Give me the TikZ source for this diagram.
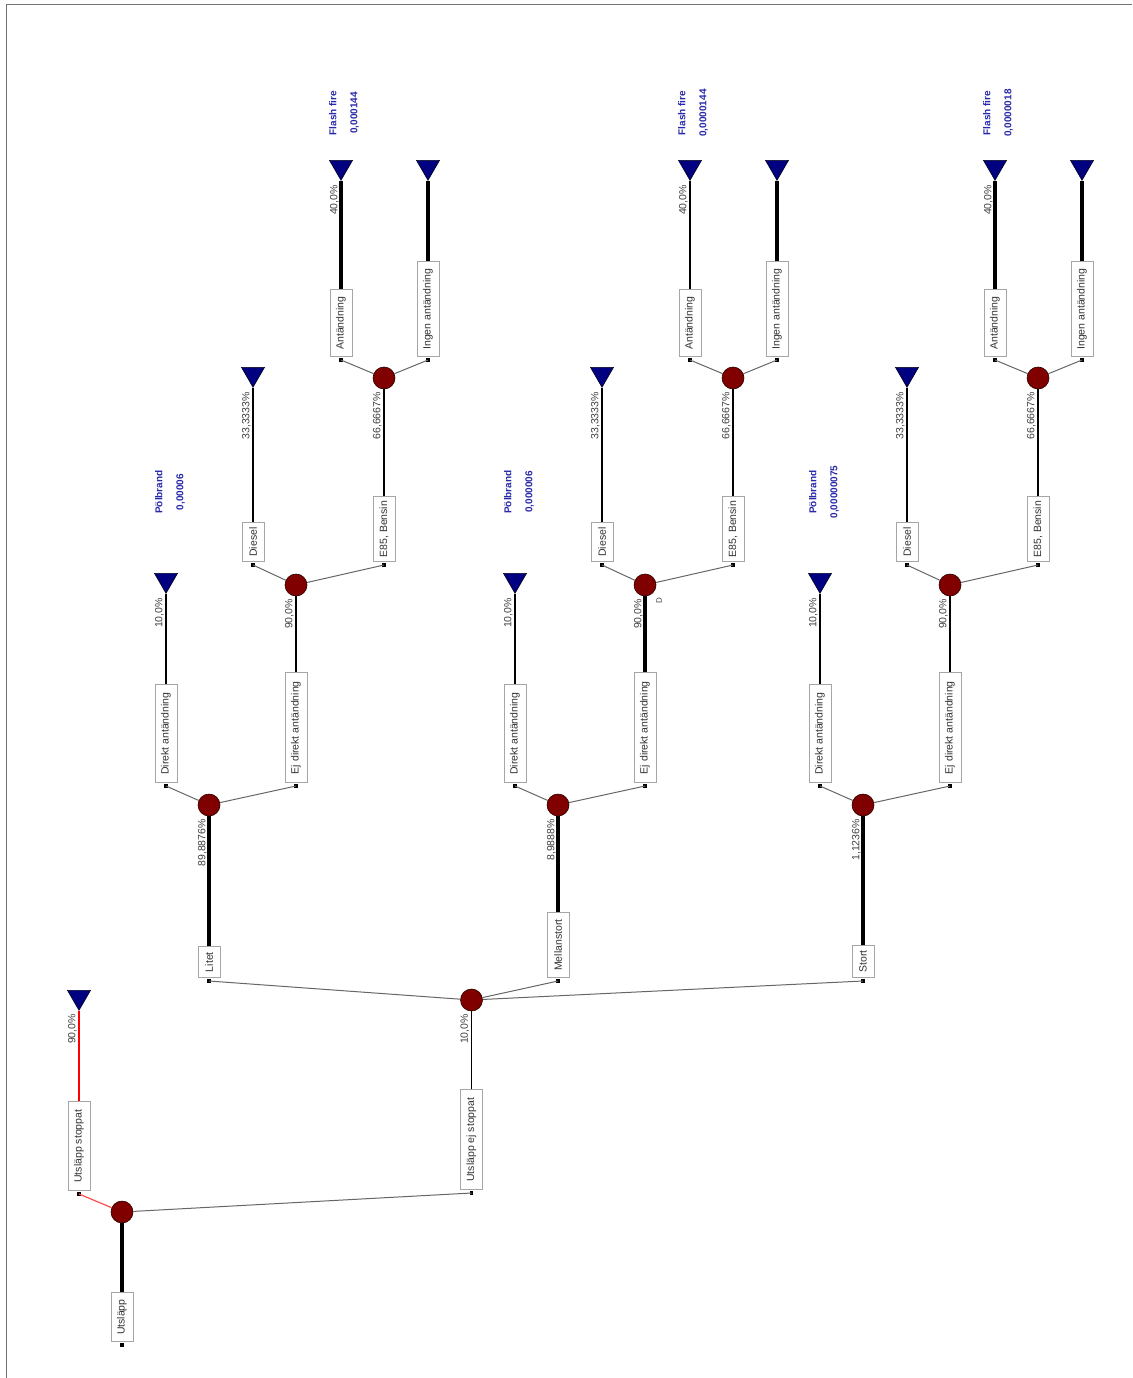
\documentclass[tikz,border=0pt]{standalone}
\usepackage{fontspec}
\setmainfont{Liberation Sans}
\usetikzlibrary{shapes.geometric}
\definecolor{navyt}{RGB}{0,0,128}
\definecolor{chancered}{RGB}{128,0,0}
\definecolor{lblue}{RGB}{40,40,170}

\newcommand\mkbox[5]{%
  \node[lbox, minimum width=#4pt] (#1) at (#2,#3) {#5};
  \coordinate (#1-d) at ([yshift=-3pt]#1.west);
  \fill (#1-d) ++(-1.6pt,-1.6pt) rectangle ++(3.2pt,3.2pt);}

% #1 offset, #2 suffix, #3 style Ej->L4, #4 style Antandning->term, #5 Polbrand value, #6 Flash fire value, #7 parent box
\newcommand\grp[7]{%
  \node[chance] (cc#2) at (209+#1,805) {};
  \mkbox{dk#2}{166+#1}{783}{98}{Direkt antändning}
  \node[term] (tdk#2) at (166+#1,580) {};
  \mkbox{ej#2}{296+#1}{783}{110}{Ej direkt antändning}
  \node[chance] (cd#2) at (296+#1,585) {};
  \mkbox{di#2}{253+#1}{562}{39}{Diesel}
  \node[term] (tdi#2) at (253+#1,374) {};
  \mkbox{eb#2}{384+#1}{562}{65}{E85, Bensin}
  \node[chance] (ce#2) at (384+#1,378) {};
  \mkbox{an#2}{341+#1}{357}{67}{Antändning}
  \node[term] (tan#2) at (341+#1,167) {};
  \mkbox{in#2}{428+#1}{357}{95}{Ingen antändning}
  \node[term] (tin#2) at (428+#1,167) {};
  \draw[wthick] (#7.east) -- (cc#2);
  \draw[wthin] (cc#2) -- (dk#2-d);
  \draw[wthin] (cc#2) -- (ej#2-d);
  \draw[wmed] (dk#2.east) -- (tdk#2.corner 1);
  \draw[#3] (ej#2.east) -- (cd#2);
  \draw[wthin] (cd#2) -- (di#2-d);
  \draw[wthin] (cd#2) -- (eb#2-d);
  \draw[wmed] (di#2.east) -- (tdi#2.corner 1);
  \draw[wmed] (eb#2.east) -- (ce#2);
  \draw[wthin] (ce#2) -- (an#2-d);
  \draw[wthin] (ce#2) -- (in#2-d);
  \draw[#4] (an#2.east) -- (tan#2.corner 1);
  \draw[wthick] (in#2.east) -- (tin#2.corner 1);
  \node[pct] at (165+#1,597) {10,0\%};
  \node[pct] at (295+#1,598) {90,0\%};
  \node[pct] at (252+#1,391) {33,3333\%};
  \node[pct] at (383+#1,391) {66,6667\%};
  \node[pct] at (340+#1,184) {40,0\%};
  \node[res] at (170+#1,492) {Pölbrand\\#5};
  \node[res] at (344+#1,113) {Flash fire\\#6};
}

\begin{document}
\begin{tikzpicture}[x=1pt,y=-1pt,
  lbox/.style={draw=black!35, fill=white, rotate=90, font=\fontsize{10.5}{12}\selectfont,
    text=black!80, inner sep=0pt, minimum height=22pt, line width=0.7pt, anchor=west},
  chance/.style={circle, fill=chancered, draw=black!70!chancered, line width=0.6pt,
    minimum size=22pt, inner sep=0pt},
  term/.style={regular polygon, regular polygon sides=3, shape border rotate=180,
    fill=navyt, draw=black!80!navyt, line width=0.6pt, minimum size=26.6pt, inner sep=0pt},
  pct/.style={rotate=90, anchor=south east, font=\fontsize{10.5}{12}\selectfont,
    text=black!75, inner sep=1pt},
  res/.style={rotate=90, align=center, font=\fontsize{10}{21}\selectfont\bfseries,
    text=lblue, inner sep=0pt},
  wthick/.style={line width=3.5pt, black},
  wmed/.style={line width=1.8pt, black},
  wthin/.style={line width=1pt, black!60},
  wred/.style={line width=1.2pt, red},
  frame/.style={line width=1pt, black!55}
]
\useasboundingbox (0,0) rectangle (1132,1378);
\draw[frame] (6,1378) -- (6,5) -- (1132,5);

% root
\mkbox{b0}{122}{1342}{49}{Utsläpp}
\node[chance] (n1) at (122,1212) {};
\mkbox{bs}{79}{1191}{89}{Utsläpp stoppat}
\node[term] (ts) at (79,997) {};
\mkbox{bn}{471.5}{1190}{100}{Utsläpp ej stoppat}
\node[chance] (n2) at (471.5,1000) {};
\draw[wthick] (b0.east) -- (n1);
\draw[wred, red!70] (n1) -- (bs-d);
\draw[wred] (bs.east) -- (ts.corner 1);
\draw[wthin] (n1) -- (bn-d);
\draw[wmed] (bn.east) -- (n2);
\node[pct] at (78,1013) {90,0\%};
\node[pct] at (470.5,1013) {10,0\%};

% size level
\mkbox{bL}{209}{978}{31}{Litet}
\mkbox{bM}{558}{978}{65}{Mellanstort}
\mkbox{bS}{863}{978}{32}{Stort}
\draw[wthin] (n2) -- (bL-d);
\draw[wthin] (n2) -- (bM-d);
\draw[wthin] (n2) -- (bS-d);

\grp{0}{a}{wmed}{wthick}{0,00006}{0,000144}{bL}
\grp{349}{b}{wthick}{wmed}{0,000006}{0,0000144}{bM}
\grp{654}{c}{wmed}{wthick}{0,00000075}{0,0000018}{bS}

\node[pct] at (208,818) {89,8876\%};
\node[pct] at (557,818) {8,9888\%};
\node[pct] at (862,818) {1,1236\%};
\node[rotate=90, font=\fontsize{8}{9}\selectfont, text=black!75, inner sep=0pt] (dlab) at (659,601) {D};
\end{tikzpicture}
\end{document}
